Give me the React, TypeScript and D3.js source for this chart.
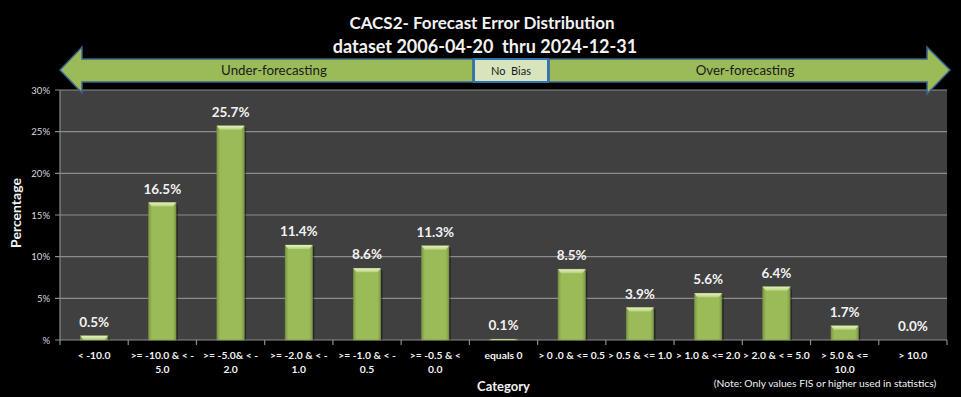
import React from "react";
import * as d3 from "d3";

const categories: string[][] = [
  ["< -10.0"],
  [">= -10.0 & < -", "5.0"],
  [">= -5.0& < -", "2.0"],
  [">= -2.0 & < -", "1.0"],
  [">= -1.0 & < -", "0.5"],
  [">= -0.5 & <", "0.0"],
  ["equals 0"],
  ["> 0 .0 & <= 0.5"],
  ["> 0.5 & <= 1.0"],
  ["> 1.0 & <= 2.0"],
  ["> 2.0 & < = 5.0"],
  ["> 5.0 & <=", "10.0"],
  ["> 10.0"],
];
const values: number[] = [0.5, 16.5, 25.7, 11.4, 8.6, 11.3, 0.1, 8.5, 3.9, 5.6, 6.4, 1.7, 0.0];
const yTicks: number[] = [0, 5, 10, 15, 20, 25, 30];
const yTickLabels: string[] = ["%", "5%", "10%", "15%", "20%", "25%", "30%"];
const titleLines: string[] = ["CACS2- Forecast Error Distribution", "dataset 2006-04-20\u00a0\u00a0thru 2024-12-31"];

const W = 961, H = 397;
const M = { left: 60, right: 947, top: 90, bottom: 340 };
const FONT = "Lato, 'Open Sans', sans-serif";

export default function App() {
  const x = d3.scaleBand<number>().domain(values.map((_, i) => i)).range([M.left, M.right]).paddingInner(0.6).paddingOuter(0.3);
  const band = d3.scaleBand<number>().domain(values.map((_, i) => i)).range([M.left, M.right]);
  const y = d3.scaleLinear().domain([0, 30]).range([M.bottom, M.top]);
  const bw = x.bandwidth();
  const cx = (i: number) => (band(i) as number) + band.bandwidth() / 2;

  const leftArrow = "M60,70 L82,47 L82,59 L473,59 L473,82 L82,82 L82,93 Z";
  const rightArrow = "M549,59 L927,59 L927,47 L950,70 L927,94 L927,82 L549,82 Z";

  return (
    <svg width={W} height={H} style={{ position: "absolute", left: 0, top: 0, background: "#000" }} fontFamily={FONT}>
      <defs>
        <linearGradient id="barG" x1="0" x2="1" y1="0" y2="0">
          <stop offset="0" stopColor="#7d9a43" />
          <stop offset="0.12" stopColor="#9bbb59" />
          <stop offset="0.88" stopColor="#9bbb59" />
          <stop offset="1" stopColor="#7d9a43" />
        </linearGradient>
        <linearGradient id="topG" x1="0" x2="0" y1="0" y2="1">
          <stop offset="0" stopColor="#e6f2c4" />
          <stop offset="1" stopColor="#b6d07a" />
        </linearGradient>
      </defs>
      <rect x={0} y={0} width={W} height={H} fill="#000" />
      {/* plot area */}
      <rect x={M.left} y={M.top} width={M.right - M.left} height={M.bottom - M.top} fill="#404040" />
      {yTicks.map((t) => (
        <line key={"g" + t} x1={M.left - 5} x2={M.right} y1={y(t)} y2={y(t)} stroke="#8c8c8c" strokeWidth={1.2} />
      ))}
      <line x1={M.left} x2={M.left} y1={M.top} y2={M.bottom} stroke="#8c8c8c" strokeWidth={1.2} />
      {d3.range(values.length + 1).map((i) => {
        const xx = i < values.length ? (band(i) as number) : M.right;
        return <line key={"t" + i} x1={xx} x2={xx} y1={M.bottom} y2={M.bottom + 5} stroke="#8c8c8c" strokeWidth={1.2} />;
      })}
      {yTicks.map((t, i) => (
        <text key={"yl" + t} x={50} y={y(t) + 3.5} fill="#d9d9d9" fontSize={9.5} textAnchor="end">
          {yTickLabels[i]}
        </text>
      ))}
      {/* bars */}
      {values.map((v, i) => {
        const xl = cx(i) - bw / 2;
        const yt = y(v);
        const h = M.bottom - yt;
        const bev = Math.min(4, h);
        return (
          <g key={"b" + i}>
            {h > 0 && <rect x={xl + 2} y={yt + 2} width={bw} height={Math.max(0, h - 2)} fill="#000" opacity={0.35} />}
            {h > 0 && <rect x={xl} y={yt} width={bw} height={h} fill="url(#barG)" stroke="#7a9445" strokeWidth={0.6} />}
            {h > 0 && (
              <path d={`M${xl},${yt} L${xl + bw},${yt} L${xl + bw - 3},${yt + bev} L${xl + 3},${yt + bev} Z`} fill="url(#topG)" />
            )}
            <text x={cx(i)} y={yt - 9} fill="#f2f2f2" fontSize={13.5} fontWeight="bold" textAnchor="middle">
              {v.toFixed(1) + "%"}
            </text>
          </g>
        );
      })}
      {/* x labels */}
      {categories.map((lines, i) => (
        <text key={"xl" + i} x={cx(i)} y={359} fill="#f2f2f2" fontSize={10.3} fontWeight="bold" textAnchor="middle">
          {lines.map((l, j) => (
            <tspan key={j} x={cx(i)} dy={j === 0 ? 0 : 14}>
              {l}
            </tspan>
          ))}
        </text>
      ))}
      <text x={(M.left + M.right) / 2} y={391} fill="#f2f2f2" fontSize={13} fontWeight="bold" textAnchor="middle">
        Category
      </text>
      <text x={825} y={387} fill="#f2f2f2" fontSize={10.3} textAnchor="middle">
        (Note: Only values FIS or higher used in statistics)
      </text>
      <text transform={`translate(21,${(M.top + M.bottom) / 2 - 2}) rotate(-90)`} fill="#f2f2f2" fontSize={14} fontWeight="bold" textAnchor="middle">
        Percentage
      </text>
      {/* title */}
      <text x={482} y={29} fill="#f2f2f2" fontSize={17} fontWeight="bold" textAnchor="middle">
        {titleLines[0]}
      </text>
      <text x={485} y={53} fill="#f2f2f2" fontSize={18} fontWeight="bold" textAnchor="middle">
        {titleLines[1]}
      </text>
      {/* arrows */}
      <path d={leftArrow} fill="#9bbb59" stroke="#3b6190" strokeWidth={1.5} strokeLinejoin="miter" />
      <path d={rightArrow} fill="#9bbb59" stroke="#3b6190" strokeWidth={1.5} strokeLinejoin="miter" />
      <rect x={474} y={59} width={74} height={23} fill="#d7e4bd" stroke="#2e75b6" strokeWidth={2} />
      <text x={274} y={75} fill="#1a1a1a" fontSize={13.3} textAnchor="middle">Under-forecasting</text>
      <text x={511} y={74.5} fill="#1a1a1a" fontSize={11} textAnchor="middle">No{"\u00a0\u00a0"}Bias</text>
      <text x={745} y={75} fill="#1a1a1a" fontSize={13.3} textAnchor="middle">Over-forecasting</text>
    </svg>
  );
}
